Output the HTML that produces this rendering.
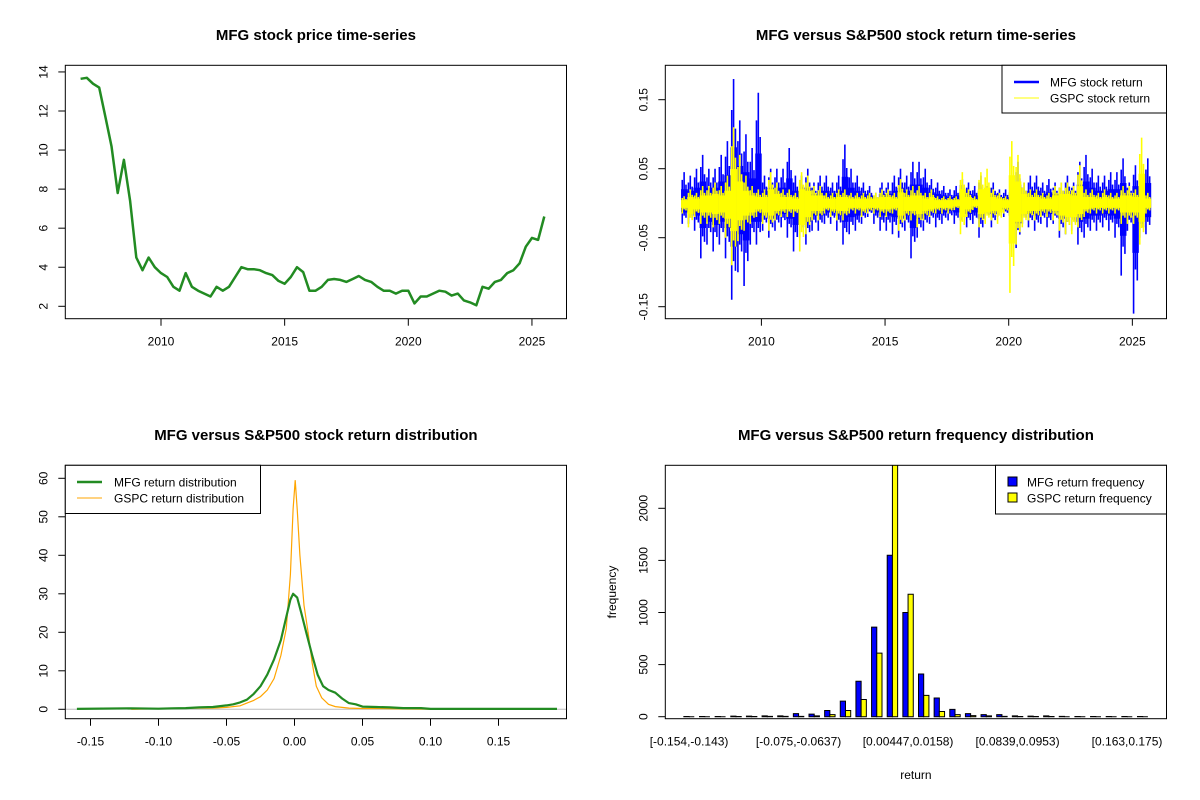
<!DOCTYPE html>
<html><head><meta charset="utf-8"><style>
html,body{margin:0;padding:0;background:#fff;}
svg{display:block;font-family:"Liberation Sans",Arial,sans-serif;}
</style></head><body>
<svg id="c" width="1200" height="800" viewBox="0 0 1200 800"></svg>
<script>
// ---------- data ----------
const priceStartYear = 2006.75;
const priceQuarterly = [13.65,13.7,13.4,13.2,11.7,10.2,7.8,9.5,7.4,4.5,3.85,4.5,4.0,3.7,3.5,3.0,2.8,3.7,3.0,2.8,2.65,2.5,3.0,2.8,3.0,3.5,4.0,3.9,3.9,3.85,3.7,3.6,3.3,3.15,3.5,4.0,3.75,2.8,2.8,3.0,3.35,3.4,3.35,3.25,3.4,3.55,3.35,3.25,3.0,2.8,2.8,2.65,2.8,2.8,2.15,2.5,2.5,2.65,2.8,2.75,2.55,2.65,2.3,2.2,2.05,3.0,2.9,3.25,3.35,3.7,3.85,4.2,5.05,5.5,5.4,6.6];
const priceYTicks = [2,4,6,8,10,12,14];
const yearTicks = [2010,2015,2020,2025];

const mfgHi = [0.045, 0.04,0.05,0.07,0.05, 0.05,0.07,0.09,0.18, 0.12,0.1,0.08,0.16, 0.04,0.05,0.05,0.05, 0.08,0.04,0.04,0.05, 0.03,0.04,0.04,0.03, 0.04,0.085,0.05,0.04, 0.03,0.025,0.015,0.03, 0.03,0.04,0.05,0.04, 0.06,0.06,0.05,0.035, 0.03,0.025,0.02,0.025, 0.035,0.03,0.025,0.04, 0.025,0.03,0.02,0.02, 0.035,0.06,0.03,0.04, 0.04,0.03,0.035,0.03, 0.03,0.04,0.03,0.06, 0.07,0.05,0.04,0.04, 0.045,0.045,0.065,0.03, 0.055,0.035,0.065];
const mfgLo = [-0.03, -0.03,-0.04,-0.08,-0.06, -0.07,-0.06,-0.08,-0.14, -0.1,-0.12,-0.06,-0.06, -0.04,-0.05,-0.04,-0.035, -0.05,-0.07,-0.05,-0.06, -0.04,-0.04,-0.03,-0.03, -0.04,-0.06,-0.045,-0.04, -0.03,-0.02,-0.03,-0.04, -0.04,-0.045,-0.05,-0.04, -0.08,-0.05,-0.04,-0.03, -0.035,-0.03,-0.025,-0.03, -0.025,-0.035,-0.03,-0.05, -0.025,-0.035,-0.02,-0.02, -0.04,-0.065,-0.03,-0.035, -0.04,-0.03,-0.035,-0.03, -0.05,-0.045,-0.04,-0.06, -0.05,-0.04,-0.04,-0.035, -0.04,-0.05,-0.105,-0.04, -0.16,-0.05,-0.045];
const gspcHi = [0.01, 0.02,0.015,0.025,0.025, 0.03,0.025,0.04,0.11, 0.07,0.04,0.025,0.02, 0.02,0.045,0.03,0.02, 0.02,0.015,0.045,0.04, 0.025,0.025,0.015,0.015, 0.02,0.02,0.015,0.015, 0.015,0.015,0.015,0.02, 0.02,0.015,0.035,0.02, 0.025,0.025,0.015,0.02, 0.01,0.01,0.01,0.01, 0.045,0.02,0.01,0.045, 0.05,0.02,0.015,0.01, 0.09,0.07,0.03,0.02, 0.02,0.015,0.015,0.025, 0.03,0.03,0.025,0.055, 0.02,0.02,0.015,0.02, 0.015,0.015,0.025,0.025, 0.02,0.095,0.015];
const gspcLo = [-0.015, -0.035,-0.02,-0.03,-0.03, -0.035,-0.03,-0.05,-0.09, -0.055,-0.04,-0.03,-0.02, -0.03,-0.04,-0.025,-0.02, -0.02,-0.02,-0.07,-0.045, -0.025,-0.025,-0.015,-0.02, -0.025,-0.025,-0.015,-0.015, -0.02,-0.015,-0.015,-0.02, -0.02,-0.015,-0.04,-0.025, -0.025,-0.035,-0.025,-0.02, -0.015,-0.015,-0.015,-0.01, -0.045,-0.02,-0.01,-0.035, -0.03,-0.025,-0.03,-0.015, -0.13,-0.06,-0.035,-0.025, -0.025,-0.02,-0.02,-0.025, -0.04,-0.045,-0.045,-0.035, -0.02,-0.015,-0.015,-0.015, -0.015,-0.015,-0.03,-0.03, -0.03,-0.06,-0.015];
const retYTicks = [-0.15,-0.05,0.05,0.15];
const retYLabels = ["-0.15","-0.05","0.05","0.15"];

const mfgDensX = [-0.16,-0.12,-0.1,-0.09,-0.08,-0.07,-0.06,-0.05,-0.045,-0.04,-0.035,-0.03,-0.025,-0.02,-0.015,-0.01,-0.006,-0.003,-0.001,0.002,0.005,0.009,0.013,0.017,0.021,0.025,0.03,0.035,0.04,0.045,0.05,0.06,0.07,0.08,0.093,0.1,0.193];
const mfgDensY = [0.1,0.25,0.15,0.25,0.3,0.5,0.6,1.0,1.3,1.8,2.5,4,6,9,13,18,24,28.5,30,29,25,19.5,14,9,6,5,4.3,2.8,1.6,1.3,0.7,0.6,0.5,0.3,0.3,0.1,0.1];
const gspcDensX = [-0.12,-0.095,-0.08,-0.07,-0.06,-0.05,-0.04,-0.035,-0.03,-0.025,-0.02,-0.015,-0.01,-0.006,-0.003,-0.001,0.0005,0.002,0.004,0.007,0.01,0.013,0.016,0.02,0.025,0.03,0.04,0.05,0.06,0.08,0.1,0.193];
const gspcDensY = [0,0.2,0.3,0.3,0.3,0.5,0.9,1.6,2.3,3.3,5,8,14,21,35,52,59.5,52,40,27,20,12,6,3,1.3,0.7,0.3,0.2,0.2,0.1,0.05,0];
const densXTicks = [-0.15,-0.10,-0.05,0,0.05,0.10,0.15];
const densXLabels = ["-0.15","-0.10","-0.05","0.00","0.05","0.10","0.15"];
const densYTicks = [0,10,20,30,40,50,60];

const binLabels = ["[-0.154,-0.143)","[-0.143,-0.132)","[-0.132,-0.12)","[-0.12,-0.109)","[-0.109,-0.0977)","[-0.0977,-0.0863)","[-0.0863,-0.075)","[-0.075,-0.0637)","[-0.0637,-0.0524)","[-0.0524,-0.041)","[-0.041,-0.0297)","[-0.0297,-0.0184)","[-0.0184,-0.0068)","[-0.0068,0.00447)","[0.00447,0.0158)","[0.0158,0.0271)","[0.0271,0.0385)","[0.0385,0.0498)","[0.0498,0.0612)","[0.0612,0.0725)","[0.0725,0.0839)","[0.0839,0.0953)","[0.0953,0.107)","[0.107,0.118)","[0.118,0.129)","[0.129,0.141)","[0.141,0.152)","[0.152,0.163)","[0.163,0.175)","[0.175,0.186)"];
const mfgFreq = [2,2,2,5,5,8,8,30,25,60,150,340,860,1550,1000,410,180,70,30,20,20,8,5,8,3,2,2,2,2,2];
const gspcFreq = [0,0,0,2,2,3,3,3,8,20,60,165,610,2450,1175,205,50,20,10,8,3,2,2,2,0,0,0,0,0,0];
const freqYTicks = [0,500,1000,1500,2000];

// ---------- helpers ----------
const svg = document.getElementById('c');
const NS = 'http://www.w3.org/2000/svg';
function mk(tag, attrs, parent){
  const e = document.createElementNS(NS, tag);
  for (const k in attrs) e.setAttribute(k, attrs[k]);
  (parent||svg).appendChild(e);
  return e;
}
function txt(s, x, y, opts, parent){
  const e = mk('text', {x:x, y:y, 'font-size':opts.size||12, 'text-anchor':opts.anchor||'middle', fill:'#000'}, parent);
  if (opts.bold) e.setAttribute('font-weight','bold');
  if (opts.rot) e.setAttribute('transform','rotate(-90 '+x+' '+y+')');
  e.textContent = s;
  return e;
}
function box(x0,y0,x1,y1,name){
  const r = mk('rect',{x:x0,y:y0,width:x1-x0,height:y1-y0,fill:'none',stroke:'#000','stroke-width':1});
  
  
}
function xTicks(vals, labels, fx, yb, name){
  const g = mk('g',{});
  
  
  vals.forEach((v,i)=>{
    const x = fx(v);
    mk('line',{x1:x,x2:x,y1:yb,y2:yb+7,stroke:'#000'},g);
    if (labels[i] !== '') txt(labels[i], x, yb+27, {size:12}, g);
  });
}
function yTicks(vals, labels, fy, xl, name){
  const g = mk('g',{});
  
  
  vals.forEach((v,i)=>{
    const y = fy(v);
    mk('line',{x1:xl-7,x2:xl,y1:y,y2:y,stroke:'#000'},g);
    txt(labels[i], xl-18, y, {size:12, rot:true}, g);
  });
}
const L = 65.3, R = 566.5, T = 65.3, B = 318.7;

// ---------- Panel 1: price ----------
(function(){
  const fx = t => 161 + (t-2010)*24.73;
  const fy = p => 306.3 - (p-2)*19.53;
  const t1 = txt('MFG stock price time-series', (L+R)/2, 40, {size:15, bold:true});
  
  
  const pts = priceQuarterly.map((p,i)=> fx(priceStartYear + i*0.25).toFixed(1)+','+fy(p).toFixed(1)).join(' ');
  const pl = mk('polyline',{points:pts,fill:'none',stroke:'#228B22','stroke-width':2.5,'stroke-linejoin':'round'});
  
  
  box(L,T,R,B,'price-plot-frame');
  xTicks(yearTicks, yearTicks.map(String), fx, B, 'price-x-axis');
  yTicks(priceYTicks, priceYTicks.map(String), fy, L, 'price-y-axis');
})();

// ---------- Panel 2: returns ----------
(function(){
  const ox = 600;
  const fx = t => 761.4 + (t-2010)*24.73;
  const fy = v => 203.2 - v*690;
  const t2 = txt('MFG versus S&P500 stock return time-series', ox+(L+R)/2, 40, {size:15, bold:true});
  
  
  const cp = mk('clipPath',{id:'clip2'});
  mk('rect',{x:ox+L,y:T,width:R-L,height:B-T},cp);
  function series(hi, lo, color, name){
    const g = mk('g',{'clip-path':'url(#clip2)'});
    
    
    const w = 24.73*0.25;
    hi.forEach((h,i)=>{
      const t0 = priceStartYear + i*0.25;
      const x0 = fx(t0);
      const yh = fy(h*0.45), yl = fy(lo[i]*0.45);
      mk('rect',{x:x0,y:yh,width:w+0.3,height:yl-yh,fill:color},g);
      const fr = [0.2,0.5,0.8], sc=[0.75,1,0.6];
      fr.forEach((f,k)=>{
        const x = x0 + w*f;
        const a = (k===1)? h : h*sc[k];
        const b = (k===1)? lo[i]*sc[(k+1)%3] : lo[i]*(k===0?1:0.7);
        mk('line',{x1:x,x2:x,y1:fy(a),y2:fy(b),stroke:color,'stroke-width':1.6},g);
      });
    });
  }
  series(mfgHi, mfgLo, '#0000FF', 'mfg-return-series');
  series(gspcHi, gspcLo, '#FFFF00', 'gspc-return-series');
  box(ox+L,T,ox+R,B,'return-plot-frame');
  xTicks(yearTicks, yearTicks.map(String), fx, B, 'return-x-axis');
  yTicks(retYTicks, retYLabels, fy, ox+L, 'return-y-axis');
  const lg = mk('g',{});
  
  
  mk('rect',{x:1002,y:T,width:ox+R-1002,height:113-T,fill:'#fff',stroke:'#000'},lg);
  mk('line',{x1:1014,x2:1039,y1:82,y2:82,stroke:'#0000FF','stroke-width':2.5},lg);
  txt('MFG stock return',1050,86.5,{size:12,anchor:'start'},lg);
  mk('line',{x1:1014,x2:1039,y1:98,y2:98,stroke:'#FFFF00','stroke-width':1},lg);
  txt('GSPC stock return',1050,102.5,{size:12,anchor:'start'},lg);
})();

// ---------- Panel 3: density ----------
(function(){
  const fx = v => 294.5 + v*1360;
  const fy = d => 709.3 - d*3.85;
  const t3 = txt('MFG versus S&P500 stock return distribution', (L+R)/2, 440, {size:15, bold:true});
  
  
  const zl = mk('line',{x1:L,x2:R,y1:fy(0),y2:fy(0),stroke:'#BEBEBE'});
  
  
  const p1 = mk('polyline',{points:gspcDensX.map((x,i)=>fx(x).toFixed(1)+','+fy(gspcDensY[i]).toFixed(1)).join(' '),fill:'none',stroke:'#FFA500','stroke-width':1.2});
  
  
  const p2 = mk('polyline',{points:mfgDensX.map((x,i)=>fx(x).toFixed(1)+','+fy(mfgDensY[i]).toFixed(1)).join(' '),fill:'none',stroke:'#228B22','stroke-width':2.2,'stroke-linejoin':'round'});
  
  
  box(L,T+400,R,B+400,'density-plot-frame');
  xTicks(densXTicks, densXLabels, fx, B+400, 'density-x-axis');
  yTicks(densYTicks, densYTicks.map(String), fy, L, 'density-y-axis');
  const lg = mk('g',{});
  
  
  mk('rect',{x:L,y:T+400,width:260.5-L,height:513.5-T-400,fill:'#fff',stroke:'#000'},lg);
  mk('line',{x1:77,x2:102,y1:482,y2:482,stroke:'#228B22','stroke-width':2.5},lg);
  txt('MFG return distribution',114,486.5,{size:12,anchor:'start'},lg);
  mk('line',{x1:77,x2:102,y1:498,y2:498,stroke:'#FFA500','stroke-width':1},lg);
  txt('GSPC return distribution',114,502.5,{size:12,anchor:'start'},lg);
})();

// ---------- Panel 4: histogram ----------
(function(){
  const ox = 600, oy = 400;
  const fx = u => 665.3 + (u+2.56)*5.214;
  const fy = c => 716.7 - c*0.1042;
  const t4 = txt('MFG versus S&P500 return frequency distribution', ox+(L+R)/2, 440, {size:15, bold:true});
  
  
  const cp = mk('clipPath',{id:'clip4'});
  mk('rect',{x:ox+L,y:T+oy,width:R-L,height:B-T},cp);
  const g = mk('g',{'clip-path':'url(#clip4)'});
  
  
  function bar(u0, c, color, name){
    const x0 = fx(u0), x1 = fx(u0+1), y0 = fy(0), y1 = fy(c);
    const p = mk('path',{d:'M'+x0+','+y0+'L'+x0+','+y1+'L'+x1+','+y1+'L'+x1+','+y0+'Z',fill:color,stroke:'#000','stroke-width':1},g);
    
    
  }
  mfgFreq.forEach((c,i)=>{
    bar(1+3*i, c, '#0000FF', 'bar-mfg');
    bar(2+3*i, gspcFreq[i], '#FFFF00', 'bar-gspc');
  });
  box(ox+L,T+oy,ox+R,B+oy,'frequency-plot-frame');
  const ax = mk('g',{});
  
  
  binLabels.forEach((s,i)=>{ if (i%7===0) txt(s, fx(2+3*i), B+oy+27, {size:12}, ax); });
  yTicks(freqYTicks, freqYTicks.map(String), fy, ox+L, 'frequency-y-axis');
  const xl = txt('return', ox+(L+R)/2, 779, {size:12});
  
  
  const yl = txt('frequency', 616, 592, {size:12, rot:true});
  
  
  const lg = mk('g',{});
  
  
  mk('rect',{x:995.5,y:T+oy,width:ox+R-995.5,height:514-T-oy,fill:'#fff',stroke:'#000'},lg);
  mk('rect',{x:1008,y:477,width:9,height:9,fill:'#0000FF',stroke:'#000'},lg);
  txt('MFG return frequency',1027,486.5,{size:12,anchor:'start'},lg);
  mk('rect',{x:1008,y:493,width:9,height:9,fill:'#FFFF00',stroke:'#000'},lg);
  txt('GSPC return frequency',1027,502.5,{size:12,anchor:'start'},lg);
})();
</script>
</body></html>
